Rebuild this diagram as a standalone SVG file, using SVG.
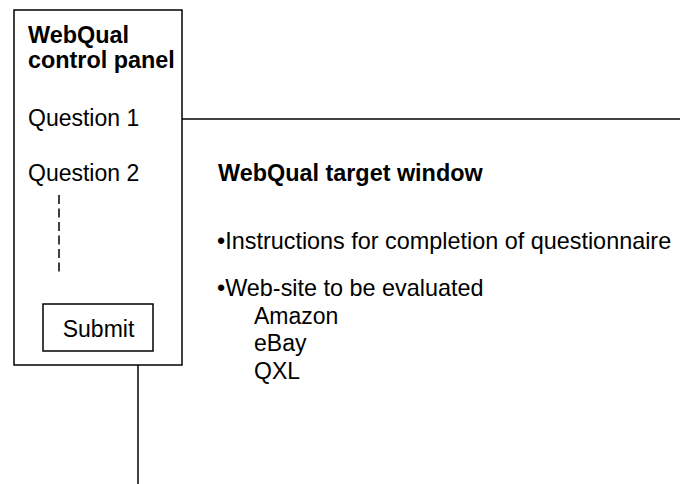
<svg xmlns="http://www.w3.org/2000/svg" width="680" height="484" viewBox="0 0 680 484">
<style>
.box{fill:#fff;stroke:#000;stroke-width:1.5}
.ln{fill:none;stroke:#000;stroke-width:1.5}
.t{font-family:"Liberation Sans",Arial,sans-serif;font-size:23px;fill:#000}
.b{font-weight:bold;font-size:23.4px}
.w{font-size:23.4px}
</style>
<rect width="680" height="484" fill="#fff"/>
<g id="connectors">
<line class="ln" x1="182" y1="119" x2="680" y2="119"/>
<line class="ln" x1="138" y1="365" x2="138" y2="484"/>
</g>
<g id="control-panel">
<rect class="box" x="14" y="10" width="168" height="355"/>
<text class="t b" x="28" y="43">WebQual</text>
<text class="t b" x="28" y="68">control panel</text>
<text class="t" x="28" y="126">Question 1</text>
<text class="t" x="28" y="181">Question 2</text>
<line class="ln" x1="59" y1="195" x2="59" y2="272" stroke-dasharray="9 4.5"/>
</g>
<g id="submit">
<rect class="box" x="43" y="304" width="110" height="47"/>
<text class="t" x="98.5" y="337" text-anchor="middle">Submit</text>
</g>
<g id="target-window">
<text class="t b" x="218" y="181">WebQual target window</text>
<text class="t w" x="217" y="249">•Instructions for completion of questionnaire</text>
<text class="t w" x="217" y="296">•Web-site to be evaluated</text>
<text class="t" x="254" y="324">Amazon</text>
<text class="t" x="254" y="351">eBay</text>
<text class="t" x="254" y="379">QXL</text>
</g>
</svg>
